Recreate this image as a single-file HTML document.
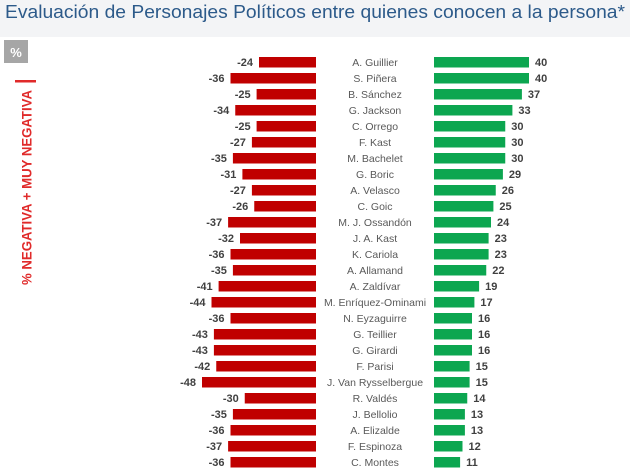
<!DOCTYPE html>
<html><head><meta charset="utf-8"><style>
html,body{margin:0;padding:0;background:#fff;}
svg{display:block;}
</style></head><body>
<svg width="630" height="470" viewBox="0 0 630 470" xmlns="http://www.w3.org/2000/svg">
<rect x="0" y="0" width="630" height="470" fill="#ffffff"/>
<rect x="0" y="0" width="630" height="37" fill="#f3f4f6"/>
<text x="5" y="18" font-family="Liberation Sans, sans-serif" font-size="18.5" fill="#2c5a8a" textLength="620" lengthAdjust="spacingAndGlyphs">Evaluación de Personajes Políticos entre quienes conocen a la persona*</text>
<rect x="4" y="40" width="24" height="23" fill="#a6a6a6"/>
<text x="16" y="57" font-family="Liberation Sans, sans-serif" font-size="13" font-weight="bold" fill="#ffffff" text-anchor="middle">%</text>
<rect x="15" y="80" width="21" height="2.5" fill="#e02a2a"/>
<text transform="translate(31.5,187.5) rotate(-90)" x="0" y="0" font-family="Liberation Sans, sans-serif" font-size="13.5" font-weight="bold" fill="#e02a2a" text-anchor="middle" textLength="195" lengthAdjust="spacingAndGlyphs">% NEGATIVA + MUY NEGATIVA</text>
<g fill="#c00000">
<rect x="259" y="57" width="57" height="10.5"/>
<rect x="230.5" y="73" width="85.5" height="10.5"/>
<rect x="256.6" y="89" width="59.4" height="10.5"/>
<rect x="235.25" y="105" width="80.75" height="10.5"/>
<rect x="256.6" y="121" width="59.4" height="10.5"/>
<rect x="251.9" y="137" width="64.1" height="10.5"/>
<rect x="232.9" y="153" width="83.1" height="10.5"/>
<rect x="242.4" y="169" width="73.6" height="10.5"/>
<rect x="251.9" y="185" width="64.1" height="10.5"/>
<rect x="254.25" y="201" width="61.75" height="10.5"/>
<rect x="228.1" y="217" width="87.9" height="10.5"/>
<rect x="240" y="233" width="76" height="10.5"/>
<rect x="230.5" y="249" width="85.5" height="10.5"/>
<rect x="232.9" y="265" width="83.1" height="10.5"/>
<rect x="218.6" y="281" width="97.4" height="10.5"/>
<rect x="211.5" y="297" width="104.5" height="10.5"/>
<rect x="230.5" y="313" width="85.5" height="10.5"/>
<rect x="213.9" y="329" width="102.1" height="10.5"/>
<rect x="213.9" y="345" width="102.1" height="10.5"/>
<rect x="216.25" y="361" width="99.75" height="10.5"/>
<rect x="202" y="377" width="114" height="10.5"/>
<rect x="244.75" y="393" width="71.25" height="10.5"/>
<rect x="232.9" y="409" width="83.1" height="10.5"/>
<rect x="230.5" y="425" width="85.5" height="10.5"/>
<rect x="228.1" y="441" width="87.9" height="10.5"/>
<rect x="230.5" y="457" width="85.5" height="10.5"/>
</g>
<g fill="#0ca650">
<rect x="434" y="57" width="95" height="10.5"/>
<rect x="434" y="73" width="95" height="10.5"/>
<rect x="434" y="89" width="87.9" height="10.5"/>
<rect x="434" y="105" width="78.4" height="10.5"/>
<rect x="434" y="121" width="71.25" height="10.5"/>
<rect x="434" y="137" width="71.25" height="10.5"/>
<rect x="434" y="153" width="71.25" height="10.5"/>
<rect x="434" y="169" width="68.9" height="10.5"/>
<rect x="434" y="185" width="61.75" height="10.5"/>
<rect x="434" y="201" width="59.4" height="10.5"/>
<rect x="434" y="217" width="57" height="10.5"/>
<rect x="434" y="233" width="54.6" height="10.5"/>
<rect x="434" y="249" width="54.6" height="10.5"/>
<rect x="434" y="265" width="52.25" height="10.5"/>
<rect x="434" y="281" width="45.1" height="10.5"/>
<rect x="434" y="297" width="40.4" height="10.5"/>
<rect x="434" y="313" width="38" height="10.5"/>
<rect x="434" y="329" width="38" height="10.5"/>
<rect x="434" y="345" width="38" height="10.5"/>
<rect x="434" y="361" width="35.6" height="10.5"/>
<rect x="434" y="377" width="35.6" height="10.5"/>
<rect x="434" y="393" width="33.25" height="10.5"/>
<rect x="434" y="409" width="30.9" height="10.5"/>
<rect x="434" y="425" width="30.9" height="10.5"/>
<rect x="434" y="441" width="28.5" height="10.5"/>
<rect x="434" y="457" width="26.1" height="10.5"/>
</g>
<g font-family="Liberation Sans, sans-serif" font-size="10.5" fill="#595959" text-anchor="middle">
<text x="375" y="66">A. Guillier</text>
<text x="375" y="82">S. Piñera</text>
<text x="375" y="98">B. Sánchez</text>
<text x="375" y="114">G. Jackson</text>
<text x="375" y="130">C. Orrego</text>
<text x="375" y="146">F. Kast</text>
<text x="375" y="162">M. Bachelet</text>
<text x="375" y="178">G. Boric</text>
<text x="375" y="194">A. Velasco</text>
<text x="375" y="210">C. Goic</text>
<text x="375" y="226">M. J. Ossandón</text>
<text x="375" y="242">J. A. Kast</text>
<text x="375" y="258">K. Cariola</text>
<text x="375" y="274">A. Allamand</text>
<text x="375" y="290">A. Zaldívar</text>
<text x="375" y="306">M. Enríquez-Ominami</text>
<text x="375" y="322">N. Eyzaguirre</text>
<text x="375" y="338">G. Teillier</text>
<text x="375" y="354">G. Girardi</text>
<text x="375" y="370">F. Parisi</text>
<text x="375" y="386">J. Van Rysselbergue</text>
<text x="375" y="402">R. Valdés</text>
<text x="375" y="418">J. Bellolio</text>
<text x="375" y="434">A. Elizalde</text>
<text x="375" y="450">F. Espinoza</text>
<text x="375" y="466">C. Montes</text>
</g>
<g font-family="Liberation Sans, sans-serif" font-size="11" font-weight="bold" fill="#404040" text-anchor="end">
<text x="253" y="66">-24</text>
<text x="224.5" y="82">-36</text>
<text x="250.6" y="98">-25</text>
<text x="229.25" y="114">-34</text>
<text x="250.6" y="130">-25</text>
<text x="245.9" y="146">-27</text>
<text x="226.9" y="162">-35</text>
<text x="236.4" y="178">-31</text>
<text x="245.9" y="194">-27</text>
<text x="248.25" y="210">-26</text>
<text x="222.1" y="226">-37</text>
<text x="234" y="242">-32</text>
<text x="224.5" y="258">-36</text>
<text x="226.9" y="274">-35</text>
<text x="212.6" y="290">-41</text>
<text x="205.5" y="306">-44</text>
<text x="224.5" y="322">-36</text>
<text x="207.9" y="338">-43</text>
<text x="207.9" y="354">-43</text>
<text x="210.25" y="370">-42</text>
<text x="196" y="386">-48</text>
<text x="238.75" y="402">-30</text>
<text x="226.9" y="418">-35</text>
<text x="224.5" y="434">-36</text>
<text x="222.1" y="450">-37</text>
<text x="224.5" y="466">-36</text>
</g>
<g font-family="Liberation Sans, sans-serif" font-size="11" font-weight="bold" fill="#404040" text-anchor="start">
<text x="535" y="66">40</text>
<text x="535" y="82">40</text>
<text x="527.9" y="98">37</text>
<text x="518.4" y="114">33</text>
<text x="511.25" y="130">30</text>
<text x="511.25" y="146">30</text>
<text x="511.25" y="162">30</text>
<text x="508.9" y="178">29</text>
<text x="501.75" y="194">26</text>
<text x="499.4" y="210">25</text>
<text x="497" y="226">24</text>
<text x="494.6" y="242">23</text>
<text x="494.6" y="258">23</text>
<text x="492.25" y="274">22</text>
<text x="485.1" y="290">19</text>
<text x="480.4" y="306">17</text>
<text x="478" y="322">16</text>
<text x="478" y="338">16</text>
<text x="478" y="354">16</text>
<text x="475.6" y="370">15</text>
<text x="475.6" y="386">15</text>
<text x="473.25" y="402">14</text>
<text x="470.9" y="418">13</text>
<text x="470.9" y="434">13</text>
<text x="468.5" y="450">12</text>
<text x="466.1" y="466">11</text>
</g>
</svg>
</body></html>
